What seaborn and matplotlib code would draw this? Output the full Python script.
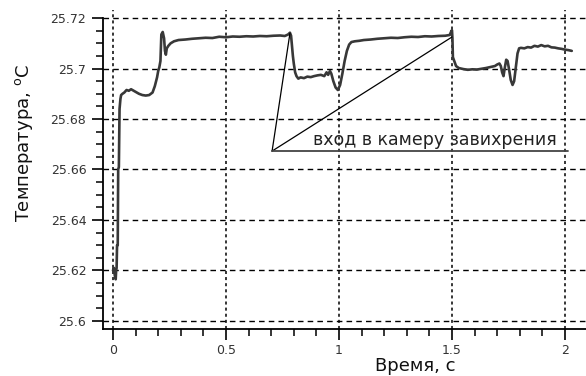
import matplotlib
matplotlib.use("Agg")
import matplotlib.pyplot as plt
from matplotlib.ticker import MultipleLocator
import seaborn as sns

# temperature trace (time in s, temperature in degC)
time = [0.000, 0.004, 0.008, 0.012, 0.014, 0.016, 0.018, 0.021, 0.023, 0.026,
        0.029, 0.033, 0.036, 0.042, 0.050, 0.060, 0.070, 0.080, 0.090, 0.100,
        0.115, 0.130, 0.145, 0.160, 0.175, 0.185, 0.195, 0.200, 0.205, 0.210,
        0.214, 0.220, 0.226, 0.230, 0.234, 0.238, 0.245, 0.255, 0.270, 0.290,
        0.320, 0.350, 0.380, 0.410, 0.440, 0.470, 0.500, 0.530, 0.560, 0.590,
        0.620, 0.650, 0.680, 0.710, 0.740, 0.760, 0.775, 0.783, 0.788, 0.792,
        0.796, 0.800, 0.806, 0.812, 0.820, 0.830, 0.845, 0.860, 0.875, 0.890,
        0.905, 0.920, 0.935, 0.945, 0.952, 0.960, 0.966, 0.975, 0.985, 0.995,
        1.005, 1.015, 1.025, 1.035, 1.045, 1.055, 1.070, 1.090, 1.110, 1.140,
        1.170, 1.200, 1.230, 1.260, 1.290, 1.320, 1.350, 1.380, 1.410, 1.440,
        1.470, 1.490, 1.497, 1.500, 1.502, 1.504, 1.510, 1.518, 1.530, 1.550,
        1.570, 1.590, 1.610, 1.630, 1.650, 1.670, 1.690, 1.700, 1.710, 1.716,
        1.722, 1.728, 1.734, 1.740, 1.746, 1.752, 1.760, 1.768, 1.775, 1.782,
        1.790, 1.797, 1.805, 1.820, 1.835, 1.850, 1.865, 1.880, 1.895, 1.910,
        1.925, 1.940, 1.955, 1.970, 1.985, 2.000, 2.015, 2.030]
temp = [25.6200, 25.6210, 25.6180, 25.6165, 25.6200, 25.6210, 25.6300, 25.6300, 25.6600, 25.6610,
        25.6840, 25.6880, 25.6895, 25.6900, 25.6905, 25.6915, 25.6912, 25.6918, 25.6913, 25.6908,
        25.6900, 25.6895, 25.6893, 25.6895, 25.6905, 25.6930, 25.6965, 25.6990, 25.7005, 25.7030,
        25.7135, 25.7145, 25.7120, 25.7070, 25.7055, 25.7080, 25.7090, 25.7100, 25.7108, 25.7113,
        25.7115, 25.7118, 25.7120, 25.7122, 25.7121, 25.7126, 25.7124, 25.7127, 25.7126, 25.7128,
        25.7127, 25.7129, 25.7128, 25.7130, 25.7131, 25.7129, 25.7135, 25.7142, 25.7130, 25.7090,
        25.7050, 25.7020, 25.6985, 25.6970, 25.6960, 25.6965, 25.6962, 25.6968, 25.6966, 25.6970,
        25.6973, 25.6975, 25.6970, 25.6985, 25.6975, 25.6990, 25.6980, 25.6950, 25.6925, 25.6915,
        25.6935, 25.6980, 25.7030, 25.7070, 25.7095, 25.7105, 25.7108, 25.7110, 25.7113, 25.7115,
        25.7118, 25.7120, 25.7122, 25.7121, 25.7124, 25.7126, 25.7125, 25.7128, 25.7127, 25.7129,
        25.7130, 25.7133, 25.7148, 25.7152, 25.7120, 25.7045, 25.7030, 25.7010, 25.7002, 25.6998,
        25.6995, 25.6997, 25.6996, 25.6999, 25.7002, 25.7006, 25.7010, 25.7016, 25.7020, 25.7010,
        25.6985, 25.6970, 25.7005, 25.7035, 25.7030, 25.7000, 25.6955, 25.6935, 25.6950, 25.7000,
        25.7060, 25.7080, 25.7082, 25.7080, 25.7085, 25.7083, 25.7090, 25.7087, 25.7093, 25.7088,
        25.7090, 25.7084, 25.7083, 25.7080, 25.7078, 25.7075, 25.7073, 25.7070]

# annotation pointer: start point and the two peaks it points at
note_text = "вход в камеру завихрения"
note_origin = (0.704, 25.6673)
note_targets = [(0.783, 25.7140), (1.500, 25.7125)]
note_line_end = 2.013

x_ticks = [0, 0.5, 1, 1.5, 2]
x_tick_labels = ["0", "0.5", "1", "1.5", "2"]
y_ticks = [25.6, 25.62, 25.64, 25.66, 25.68, 25.7, 25.72]
y_tick_labels = ["25.6", "25.62", "25.64", "25.66", "25.68", "25.7", "25.72"]

sns.set_style("white")
plt.rcParams["font.family"] = ["DejaVu Sans"]

fig = plt.figure(figsize=(5.86, 3.76), dpi=100)
ax = fig.add_axes([103 / 586, 1 - 329 / 376, 483 / 586, 319 / 376])

sns.lineplot(x=time, y=temp, ax=ax, color="#383838", linewidth=1.9,
             estimator=None, sort=False)

# annotation lines
for tx, ty in note_targets:
    ax.plot([note_origin[0], tx], [note_origin[1], ty], color="black", lw=0.9)
ax.plot([note_origin[0], note_line_end], [note_origin[1], note_origin[1]],
        color="#444444", lw=1.3)
ax.text(0.885, note_origin[1] + 0.0008, note_text, fontsize=12.5,
        color="#222222", va="bottom", ha="left")

ax.set_xlim(-0.0442, 2.093)
ax.set_ylim(25.5968, 25.7232)
ax.set_xticks(x_ticks)
ax.set_xticklabels(x_tick_labels)
ax.set_yticks(y_ticks)
ax.set_yticklabels(y_tick_labels)
ax.xaxis.set_minor_locator(MultipleLocator(0.1))
ax.yaxis.set_minor_locator(MultipleLocator(0.005))

ax.xaxis.grid(True, which="major", linestyle=(0, (2, 2)), color="black", lw=1.1)
ax.yaxis.grid(True, which="major", linestyle=(0, (4, 3)), color="black", lw=1.0)

for side in ["top", "right"]:
    ax.spines[side].set_visible(False)
ax.spines["left"].set_bounds(25.5968, 25.72)
for side in ["left", "bottom"]:
    ax.spines[side].set_color("black")
    ax.spines[side].set_linewidth(1.3)

# seaborn's white style switches the ticks off, bring them back
ax.tick_params(axis="x", which="both", bottom=True)
ax.tick_params(axis="y", which="both", left=True)
ax.tick_params(axis="both", which="major", direction="out", length=8, width=1.2,
               color="black", labelsize=9, labelcolor="#333333")
ax.tick_params(axis="both", which="minor", direction="out", length=5, width=1.1,
               color="black")
ax.tick_params(axis="x", which="major", pad=3)
ax.tick_params(axis="y", which="major", pad=4)

ax.set_xlabel("Время, с", fontsize=13, color="#111111", va="baseline")
ax.set_ylabel("Температура, $^{\\rm o}$C", fontsize=13, color="#111111")
ax.xaxis.set_label_coords(0.646, -0.1315)
ax.yaxis.set_label_coords(-0.141, 0.583)

fig.savefig("out.png", dpi=100)
